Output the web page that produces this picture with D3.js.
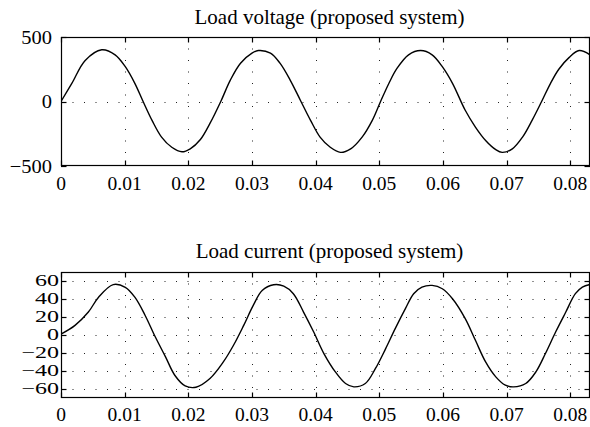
<!DOCTYPE html>
<html><head><meta charset="utf-8">
<script src="https://cdn.jsdelivr.net/npm/d3@7"></script>
<style>body{margin:0;background:#fff}svg{display:block}</style>
</head><body><svg id="c" width="590" height="427"></svg>
<script>
const voltageTime = [0,0.0017,0.0038,0.0064,0.0085,0.0101,0.0116,0.0129,0.0143,0.0158,0.0174,0.019,0.0203,0.0219,0.0234,0.0251,0.0266,0.0282,0.03,0.031,0.0329,0.0344,0.036,0.0376,0.0392,0.0407,0.0423,0.0439,0.0455,0.0473,0.0489,0.0502,0.0515,0.0528,0.0546,0.0565,0.0583,0.0599,0.0615,0.0635,0.0651,0.0667,0.0683,0.0693,0.0709,0.0725,0.074,0.0755,0.0769,0.0782,0.0798,0.0814,0.0831];
const voltageValues = [0,140,318,401,362,270,141,0,-146,-276,-355,-390,-367,-295,-170,0,166,297,375,395,375,297,166,10,-146,-276,-355,-394,-367,-276,-146,0,140,258,362,395,362,270,141,-68,-198,-302,-373,-394,-367,-276,-146,0,141,250,340,395,362];
const currentTime = [0,0.0022,0.0043,0.0059,0.0082,0.0101,0.0116,0.0132,0.0148,0.0164,0.0179,0.0195,0.0212,0.0234,0.0255,0.0271,0.0287,0.0302,0.0316,0.0334,0.035,0.0365,0.0381,0.0397,0.0413,0.0431,0.0447,0.046,0.0478,0.0494,0.051,0.0525,0.0541,0.0554,0.0567,0.0583,0.0599,0.0615,0.0635,0.0651,0.0667,0.0683,0.0698,0.0711,0.073,0.0746,0.0761,0.0777,0.0793,0.0808,0.0819,0.0831];
const currentValues = [1,10.7,25.5,42,56,53,42,22,-2,-24,-45,-56.5,-58,-48.3,-29.9,-11.4,10.7,32.9,49.5,55.8,54.3,45.9,25.5,3.3,-20.6,-41,-53.9,-57.6,-53.9,-37.2,-15.1,7.1,29.3,45.9,53.2,55.1,51.4,40.3,18.2,-5.9,-29.9,-46.5,-55.7,-57.6,-53.9,-41,-20.6,3.3,25.5,45.9,53.2,56.2];
const xTicks = [0,0.01,0.02,0.03,0.04,0.05,0.06,0.07,0.08];
const xDomain = [0,0.0831];
const voltageTicks = [-500,0,500];
const voltageDomain = [-500,500];
const currentTicks = [-60,-40,-20,0,20,40,60];
const currentDomain = [-70,70];
const titles = ["Load voltage (proposed system)","Load current (proposed system)"];

const svg = d3.select("#c");
const FONT = "Liberation Serif";
const fmtX = d => d === 0 ? "0" : d3.format(".2f")(d);
const fmtY = d3.format("d");

function panel(cfg) {
  const {top, bottom, left, right, times, values, yDomain, yTicks, title, titleY, xLabelY, yLabelX, yFont, yStretch, id} = cfg;
  const x = d3.scaleLinear().domain(xDomain).range([left, right]);
  const y = d3.scaleLinear().domain(yDomain).range([bottom, top]);
  const g = svg.append("g");
  g.append("clipPath").attr("id", id).append("rect")
    .attr("x", left).attr("y", top).attr("width", right-left).attr("height", bottom-top);
  // grid
  const grid = g.append("g").attr("stroke", "#222").attr("stroke-width", 1).attr("stroke-dasharray", "1,10.5");
  grid.selectAll("line.vx").data(xTicks.filter(t => x(t) > left + 1 && x(t) < right - 1)).join("line")
    .attr("x1", d => Math.round(x(d)) + 0.5).attr("x2", d => Math.round(x(d)) + 0.5)
    .attr("y1", top).attr("y2", bottom);
  grid.selectAll("line.hy").data(yTicks.filter(t => y(t) > top + 1 && y(t) < bottom - 1)).join("line")
    .attr("y1", d => Math.round(y(d)) + 0.5).attr("y2", d => Math.round(y(d)) + 0.5)
    .attr("x1", left).attr("x2", right);
  // line
  const pts = times.map((t, i) => [t, values[i]]);
  g.append("path").attr("clip-path", `url(#${id})`)
    .attr("d", d3.line().x(d => x(d[0])).y(d => y(d[1])).curve(d3.curveCatmullRom.alpha(0.5))(pts))
    .attr("fill", "none").attr("stroke", "#000").attr("stroke-width", 1.4);
  // box
  g.append("rect").attr("x", left + 0.5).attr("y", top + 0.5)
    .attr("width", right - left - 1).attr("height", bottom - top - 1)
    .attr("fill", "none").attr("stroke", "#000").attr("stroke-width", 1.2);
  // ticks (inward, mirrored)
  const tk = g.append("g").attr("stroke", "#000").attr("stroke-width", 1.2);
  const TL = 5.5;
  xTicks.forEach(t => {
    const xx = Math.round(x(t)) + 0.5;
    tk.append("line").attr("x1", xx).attr("x2", xx).attr("y1", bottom).attr("y2", bottom - TL);
    tk.append("line").attr("x1", xx).attr("x2", xx).attr("y1", top).attr("y2", top + TL);
  });
  yTicks.forEach(t => {
    const yy = Math.round(y(t)) + 0.5;
    tk.append("line").attr("x1", left).attr("x2", left + TL).attr("y1", yy).attr("y2", yy);
    tk.append("line").attr("x1", right).attr("x2", right - TL).attr("y1", yy).attr("y2", yy);
  });
  // labels
  g.append("g").selectAll("text").data(xTicks).join("text")
    .attr("x", d => x(d)).attr("y", xLabelY).attr("text-anchor", "middle")
    .attr("font-family", FONT).attr("font-size", 19.5).text(fmtX);
  g.append("g").selectAll("text").data(yTicks).join("text")
    .attr("transform", d => `translate(${yLabelX},${y(d)}) scale(${yStretch},1)`)
    .attr("dy", "0.34em").attr("text-anchor", "end")
    .attr("font-family", FONT).attr("font-size", yFont).text(fmtY);
  g.append("text").attr("x", (left + right) / 2 + 4).attr("y", titleY).attr("text-anchor", "middle")
    .attr("font-family", FONT).attr("font-size", 21).text(title);
}

panel({id: "c1", top: 37, bottom: 166, left: 61, right: 590, times: voltageTime, values: voltageValues,
  yDomain: voltageDomain, yTicks: voltageTicks, title: titles[0], titleY: 24, xLabelY: 190, yLabelX: 52,
  yFont: 19.5, yStretch: 1.05});
panel({id: "c2", top: 272, bottom: 398, left: 61, right: 590, times: currentTime, values: currentValues,
  yDomain: currentDomain, yTicks: currentTicks, title: titles[1], titleY: 258, xLabelY: 421, yLabelX: 59,
  yFont: 16, yStretch: 1.5});
</script>
</body></html>
